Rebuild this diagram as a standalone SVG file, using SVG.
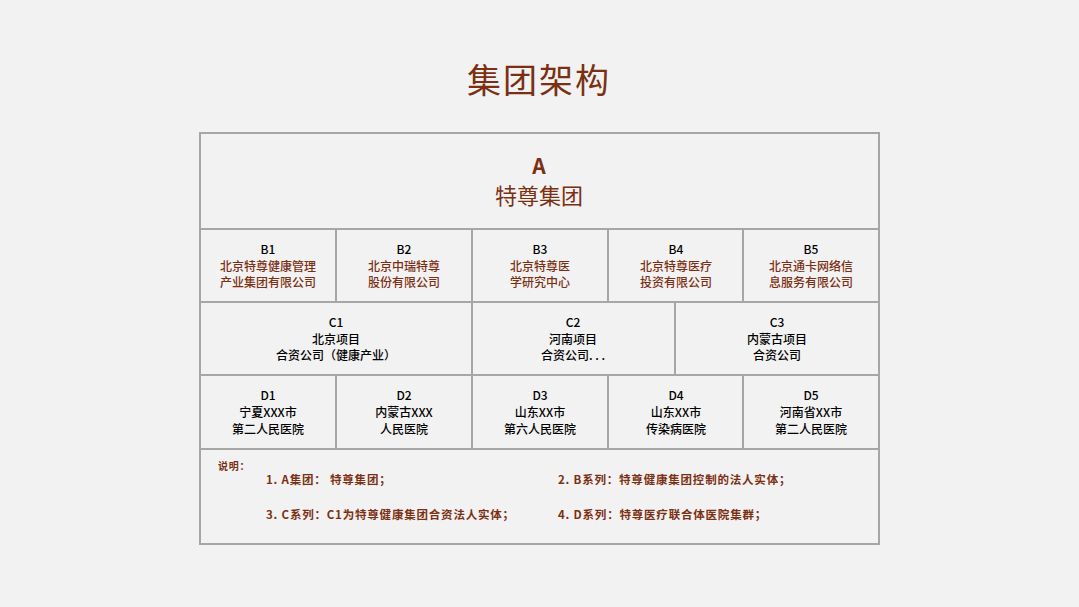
<svg xmlns="http://www.w3.org/2000/svg" width="1079" height="607" viewBox="0 0 1079 607">
<style>
text{font-family:"Noto Sans CJK SC","Noto Sans",sans-serif;text-anchor:middle}
.c{fill:none;stroke:#a6a6a6;stroke-width:2}
.k{fill:#000;font-size:12px;font-weight:500}
.r{fill:#7b3013;font-size:12px;font-weight:500}
.n{fill:#7b3013;font-size:11.5px;font-weight:bold;text-anchor:start;letter-spacing:0.8px}
</style>
<rect width="1079" height="607" fill="#f2f2f2"/>
<text x="539" y="93" style="fill:#7b3013;font-size:34px;letter-spacing:2px">集团架构</text>
<g id="connectors">
<rect class="c" x="200" y="133" width="679" height="411"/>
<line class="c" x1="200" y1="229" x2="879" y2="229"/>
<line class="c" x1="200" y1="302" x2="879" y2="302"/>
<line class="c" x1="200" y1="375" x2="879" y2="375"/>
<line class="c" x1="200" y1="449" x2="879" y2="449"/>
<path class="c" d="M336 229V302M472 229V302M608 229V302M743 229V302M472 302V375M675 302V375M336 375V449M472 375V449M608 375V449M743 375V449"/>
</g>
<g id="A"><text x="539" y="174" style="fill:#7b3013;font-size:21px;font-weight:bold">A</text><text x="539" y="204" style="fill:#7b3013;font-size:22px">特尊集团</text></g>
<g id="B1"><text class="k" x="268" y="254">B1</text><text class="r" x="268" y="271">北京特尊健康管理</text><text class="r" x="268" y="287">产业集团有限公司</text></g>
<g id="B2"><text class="k" x="404" y="254">B2</text><text class="r" x="404" y="271">北京中瑞特尊</text><text class="r" x="404" y="287">股份有限公司</text></g>
<g id="B3"><text class="k" x="540" y="254">B3</text><text class="r" x="540" y="271">北京特尊医</text><text class="r" x="540" y="287">学研究中心</text></g>
<g id="B4"><text class="k" x="676" y="254">B4</text><text class="r" x="676" y="271">北京特尊医疗</text><text class="r" x="676" y="287">投资有限公司</text></g>
<g id="B5"><text class="k" x="811" y="254">B5</text><text class="r" x="811" y="271">北京通卡网络信</text><text class="r" x="811" y="287">息服务有限公司</text></g>
<g id="C1"><text class="k" x="336" y="327">C1</text><text class="k" x="336" y="344">北京项目</text><text class="k" x="336" y="360">合资公司（健康产业）</text></g>
<g id="C2"><text class="k" x="573" y="327">C2</text><text class="k" x="573" y="344">河南项目</text><text class="k" x="573" y="360">合资公司. . .</text></g>
<g id="C3"><text class="k" x="777" y="327">C3</text><text class="k" x="777" y="344">内蒙古项目</text><text class="k" x="777" y="360">合资公司</text></g>
<g id="D1"><text class="k" x="268" y="400">D1</text><text class="k" x="268" y="417">宁夏XXX市</text><text class="k" x="268" y="434">第二人民医院</text></g>
<g id="D2"><text class="k" x="404" y="400">D2</text><text class="k" x="404" y="417">内蒙古XXX</text><text class="k" x="404" y="434">人民医院</text></g>
<g id="D3"><text class="k" x="540" y="400">D3</text><text class="k" x="540" y="417">山东XX市</text><text class="k" x="540" y="434">第六人民医院</text></g>
<g id="D4"><text class="k" x="676" y="400">D4</text><text class="k" x="676" y="417">山东XX市</text><text class="k" x="676" y="434">传染病医院</text></g>
<g id="D5"><text class="k" x="811" y="400">D5</text><text class="k" x="811" y="417">河南省XX市</text><text class="k" x="811" y="434">第二人民医院</text></g>
<g id="notes">
<text class="n" x="218" y="470" style="font-size:10px">说明：</text>
<text class="n" x="266" y="484">1.  A集团：  特尊集团；</text>
<text class="n" x="558" y="484">2.  B系列：特尊健康集团控制的法人实体；</text>
<text class="n" x="266" y="519">3.  C系列：C1为特尊健康集团合资法人实体；</text>
<text class="n" x="558" y="519">4.  D系列：特尊医疗联合体医院集群；</text>
</g>
</svg>
